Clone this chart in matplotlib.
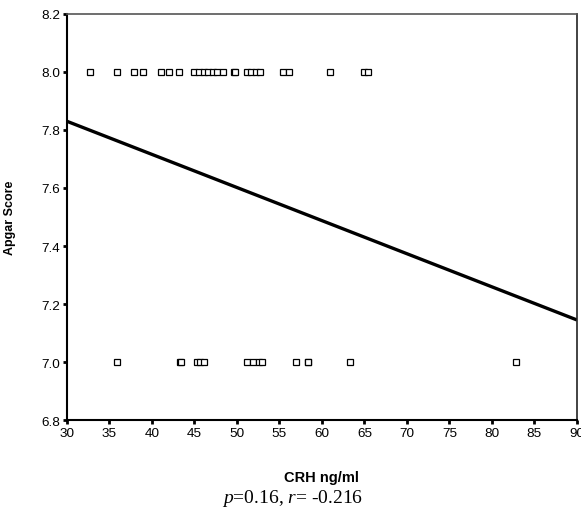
import matplotlib
matplotlib.use('Agg')
import matplotlib.pyplot as plt

plt.rcParams['mathtext.fontset'] = 'custom'
plt.rcParams['mathtext.rm'] = 'Liberation Serif'
plt.rcParams['mathtext.it'] = 'Liberation Serif:italic'

# CRH values for each Apgar group
crh_apgar8 = [32.7, 35.9, 37.9, 38.9, 41.1, 42.0, 43.2, 45.0, 45.5, 46.1, 46.6,
              47.2, 47.7, 48.3, 49.6, 49.8, 51.2, 51.7, 52.2, 52.7, 55.4, 56.1,
              60.9, 64.9, 65.4]
crh_apgar7 = [35.9, 43.3, 43.4, 45.3, 45.7, 46.1, 51.2, 51.9, 52.6, 53.0,
              57.0, 58.3, 58.4, 63.3, 82.8]
apgar_hi = 8.0
apgar_lo = 7.0

# regression line endpoints
fit_x = [30, 90]
fit_y = [7.83, 7.145]

xticks = list(range(30, 91, 5))
yticks = [6.8, 7.0, 7.2, 7.4, 7.6, 7.8, 8.0, 8.2]

fig = plt.figure(figsize=(5.81, 5.10), dpi=100)
ax = fig.add_axes([0.1153, 0.1745, 0.8777, 0.7961])

font = 'Liberation Sans'

ax.plot(crh_apgar8, [apgar_hi] * len(crh_apgar8), 's', ms=4.2, mfc='white',
        mec='black', mew=0.9, ls='none', zorder=3)
ax.plot(crh_apgar7, [apgar_lo] * len(crh_apgar7), 's', ms=4.2, mfc='white',
        mec='black', mew=0.9, ls='none', zorder=3)
ax.plot(fit_x, fit_y, color='black', lw=2.4, solid_capstyle='butt', zorder=2)

ax.set_xlim(30, 90)
ax.set_ylim(6.8, 8.2)
ax.set_xticks(xticks)
ax.set_yticks(yticks)
ax.set_xticklabels([str(v) for v in xticks], fontname=font, fontsize=9.7)
ax.set_yticklabels([f'{v:.1f}' for v in yticks], fontname=font, fontsize=9.7)
ax.tick_params(direction='out', length=3, width=2, pad=2, color='black')

for side in ['left', 'bottom']:
    ax.spines[side].set_linewidth(1.5)
    ax.spines[side].set_color('black')
ax.spines['top'].set_linewidth(1.2)
ax.spines['top'].set_color('#555555')
ax.spines['right'].set_linewidth(1.2)
ax.spines['right'].set_color('#222222')

ax.set_ylabel('Apgar Score', fontname=font, fontsize=9, fontweight='bold')
ax.yaxis.set_label_coords(-0.10, 0.5)
fig.text(0.554, 0.063, 'CRH ng/ml', fontname=font, fontsize=10.5, fontweight='bold',
         ha='center', va='center')
fig.text(0.503, 0.022, r'$p$=0.16, $r$= -0.216', fontsize=14,
         family='Liberation Serif', ha='center', va='center')

fig.savefig('out.png', dpi=100)
plt.close(fig)
